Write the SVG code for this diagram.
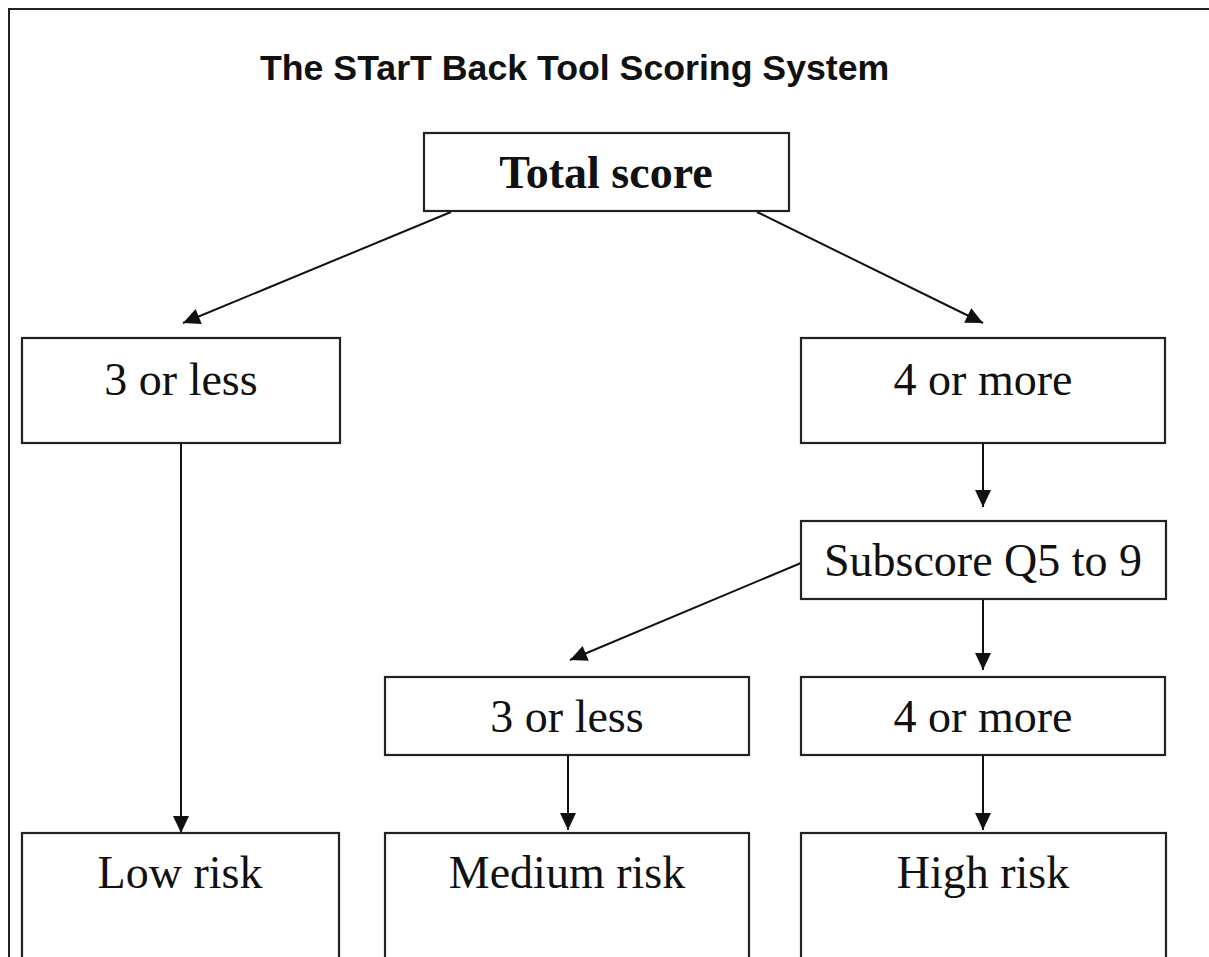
<svg xmlns="http://www.w3.org/2000/svg" width="1209" height="957" viewBox="0 0 1209 957">
<style>
.box{fill:#fff;stroke:#222;stroke-width:2.2}
.lbl{font-family:"Liberation Serif","Times New Roman",serif;font-size:46px;fill:#111;text-anchor:middle}
.bold{font-weight:bold}
.title{font-family:"Liberation Sans",Arial,sans-serif;font-weight:bold;font-size:35.7px;fill:#111}
.conn{stroke:#111;stroke-width:2;fill:none;marker-end:url(#ah)}
</style>
<defs>
<marker id="ah" markerUnits="userSpaceOnUse" markerWidth="22" markerHeight="22" viewBox="0 0 22 22" refX="19" refY="11" orient="auto">
<path d="M2,3 L19,11 L2,19 Z" fill="#111"/>
</marker>
</defs>
<rect width="1209" height="957" fill="#fff"/>
<rect x="9" y="9" width="1220" height="970" fill="none" stroke="#222" stroke-width="2"/>
<text class="title" x="260" y="80">The STarT Back Tool Scoring System</text>
<g id="connectors">
<line class="conn" x1="451" y1="212" x2="183" y2="323"/>
<line class="conn" x1="757" y1="212" x2="983" y2="323"/>
<line class="conn" x1="181" y1="444" x2="181" y2="833"/>
<line class="conn" x1="983" y1="444" x2="983" y2="507"/>
<line class="conn" x1="983" y1="600" x2="983" y2="670"/>
<line class="conn" x1="801" y1="563" x2="570" y2="660"/>
<line class="conn" x1="568" y1="756" x2="568" y2="830"/>
<line class="conn" x1="983" y1="756" x2="983" y2="830"/>
</g>
<g id="total">
<rect class="box" x="424" y="133" width="365" height="78"/>
<text class="lbl bold" x="606" y="188">Total score</text>
</g>
<g id="low-total">
<rect class="box" x="22" y="338" width="318" height="105"/>
<text class="lbl" x="181" y="395">3 or less</text>
</g>
<g id="high-total">
<rect class="box" x="801" y="338" width="364" height="105"/>
<text class="lbl" x="983" y="395">4 or more</text>
</g>
<g id="subscore">
<rect class="box" x="801" y="521" width="365" height="78"/>
<text class="lbl" x="983" y="576">Subscore Q5 to 9</text>
</g>
<g id="low-sub">
<rect class="box" x="385" y="677" width="364" height="78"/>
<text class="lbl" x="567" y="732">3 or less</text>
</g>
<g id="high-sub">
<rect class="box" x="801" y="677" width="364" height="78"/>
<text class="lbl" x="983" y="732">4 or more</text>
</g>
<g id="low-risk">
<rect class="box" x="22" y="833" width="317" height="160"/>
<text class="lbl" x="180" y="888">Low risk</text>
</g>
<g id="medium-risk">
<rect class="box" x="385" y="833" width="364" height="160"/>
<text class="lbl" x="567" y="888">Medium risk</text>
</g>
<g id="high-risk">
<rect class="box" x="801" y="833" width="365" height="160"/>
<text class="lbl" x="983" y="888">High risk</text>
</g>
</svg>
